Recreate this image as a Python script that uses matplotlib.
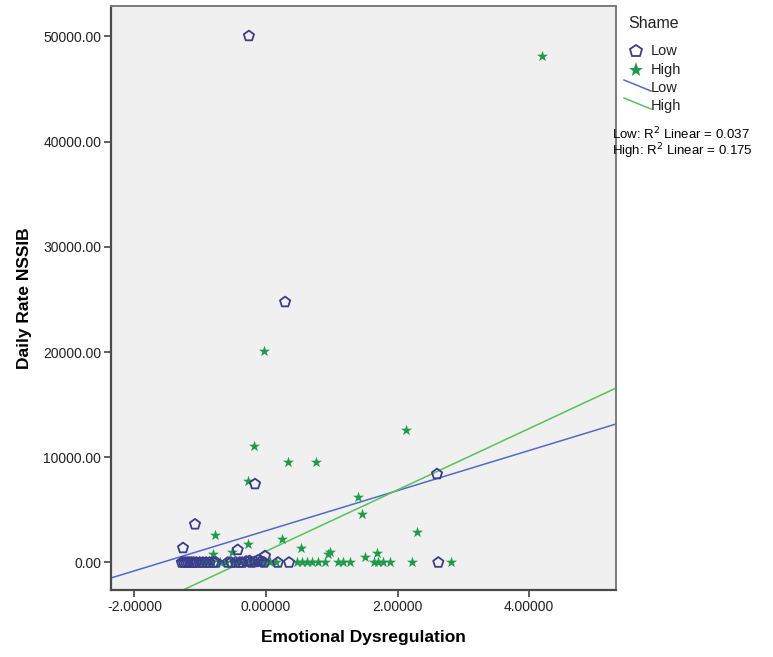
import numpy as np
import matplotlib
matplotlib.use("Agg")
import matplotlib.pyplot as plt
from matplotlib.lines import Line2D

plt.rcParams['font.family'] = ['Liberation Sans', 'DejaVu Sans']

# Shame = Low (pentagons)
low_x = [-0.26, 0.29, -0.167, 2.60, -1.08, -1.262, -0.43, -0.015, 2.62, 0.18, 0.35,
         -1.28, -1.25, -1.22, -1.19, -1.16, -1.13, -1.10, -1.06, -1.01, -0.96, -0.91,
         -0.86, -0.80, -0.76, -0.58, -0.53, -0.46, -0.40, -0.36, -0.30, -0.25, -0.22,
         -0.17, -0.12, -0.07, -0.03]
low_y = [50050, 24760, 7460, 8410, 3630, 1380, 1200, 620, 0, 0, 0,
         0, 0, 0, 0, 0, 0, 0, 0, 0, 0, 0,
         0, 0, 0, 0, 0, 0, 0, 0, 100, 150, 0,
         50, 200, 100, 0]

# Shame = High (stars)
high_x = [4.20, -0.026, -0.18, 0.33, 0.76, 2.13, -0.27, 1.40, 1.455, 2.30,
          -0.776, -0.28, 0.24, 0.53, 0.97, 0.95, 1.50, 1.69, -0.80, -0.52,
          -1.00, -0.91, -0.82, -0.70, -0.61, -0.49, -0.40, -0.30, -0.21, -0.12,
          -0.03, 0.06, 0.15, 0.47, 0.55, 0.62, 0.70, 0.79, 0.90, 1.10, 1.17,
          1.28, 1.64, 1.70, 1.78, 1.89, 2.22, 2.81]
high_y = [48150, 20130, 11070, 9580, 9580, 12600, 7780, 6200, 4610, 2930,
          2610, 1730, 2230, 1350, 970, 780, 550, 900, 780, 1030,
          0, 0, 0, 0, 0, 0, 0, 0, 0, 0,
          0, 0, 0, 0, 0, 0, 0, 0, 0, 0, 0,
          0, 0, 0, 0, 0, 0, 0]

# linear fits (intercept, slope)
fit_low = (3020, 1906)
fit_high = (1065, 2916)
r2_low = 0.037
r2_high = 0.175

xticks = [-2, 0, 2, 4]
yticks = [0, 10000, 20000, 30000, 40000, 50000]

low_col = '#3c3c8c'
high_col = '#1e9a48'
low_line = '#5468d0'
high_line = '#55c655'

W, H = 773, 657
fig = plt.figure(figsize=(W / 100, H / 100), dpi=100)
ax = fig.add_axes([0.1436, 0.102, 0.797 - 0.1436, 0.9909 - 0.102])
ax.set_facecolor('#f0f0f0')

xmin, xmax = -2.357, 5.323
ax.set_xlim(xmin, xmax)
ax.set_ylim(-2614, 52900)

xx = np.array([xmin, xmax])
ax.plot(xx, fit_low[0] + fit_low[1] * xx, color=low_line, lw=1.1, zorder=2)
ax.plot(xx, fit_high[0] + fit_high[1] * xx, color=high_line, lw=1.1, zorder=2)

ax.scatter(high_x, high_y, marker='*', s=70, color=high_col, linewidths=0, zorder=3)
ax.scatter(low_x, low_y, marker='p', s=60, facecolors='none', edgecolors=low_col,
           linewidths=1.3, zorder=4)

ax.set_xticks(xticks)
ax.set_xticklabels(['%.5f' % v for v in xticks])
ax.set_yticks(yticks)
ax.set_yticklabels(['%.2f' % v for v in yticks])
ax.tick_params(direction='out', length=5, width=1.2, color='#444444',
               labelsize=10, labelcolor='#222222', pad=2)
for side in ['left', 'bottom']:
    ax.spines[side].set_color('#4a4a4a')
    ax.spines[side].set_linewidth(1.6)
for side in ['top', 'right']:
    ax.spines[side].set_color('#7a7a7a')
    ax.spines[side].set_linewidth(1.4)

ax.set_xlabel('Emotional Dysregulation', fontsize=12.5, fontweight='bold', labelpad=12)
ax.set_ylabel('Daily Rate NSSIB', fontsize=12.5, fontweight='bold', labelpad=8)


# legend drawn by hand, in pixel positions of the figure
def fx(px):
    return px / W


def fy(py):
    return 1 - py / H


fig.text(fx(628), fy(24), 'Shame', va='center', ha='left', fontsize=11.5, color='#222222')
fig.add_artist(Line2D([fx(636)], [fy(51)], marker='p', ls='none', ms=9, mfc='none',
                      mec=low_col, mew=1.3, transform=fig.transFigure))
fig.add_artist(Line2D([fx(636)], [fy(70)], marker='*', ls='none', ms=11, color=high_col,
                      mew=0, transform=fig.transFigure))
fig.add_artist(Line2D([fx(624), fx(651)], [fy(80), fy(91)], color=low_line, lw=1.1,
                      transform=fig.transFigure))
fig.add_artist(Line2D([fx(624), fx(651)], [fy(98), fy(109)], color=high_line, lw=1.1,
                      transform=fig.transFigure))
for lab, py in [('Low', 51), ('High', 70), ('Low', 88), ('High', 106)]:
    fig.text(fx(651), fy(py), lab, va='center', ha='left', fontsize=10.5, color='#222222')

fig.text(fx(612), fy(134), 'Low: R$^2$ Linear = %.3f' % r2_low, va='center', fontsize=9.5)
fig.text(fx(612), fy(151), 'High: R$^2$ Linear = %.3f' % r2_high, va='center', fontsize=9.5)

fig.savefig('out.png', dpi=100, facecolor='white')
